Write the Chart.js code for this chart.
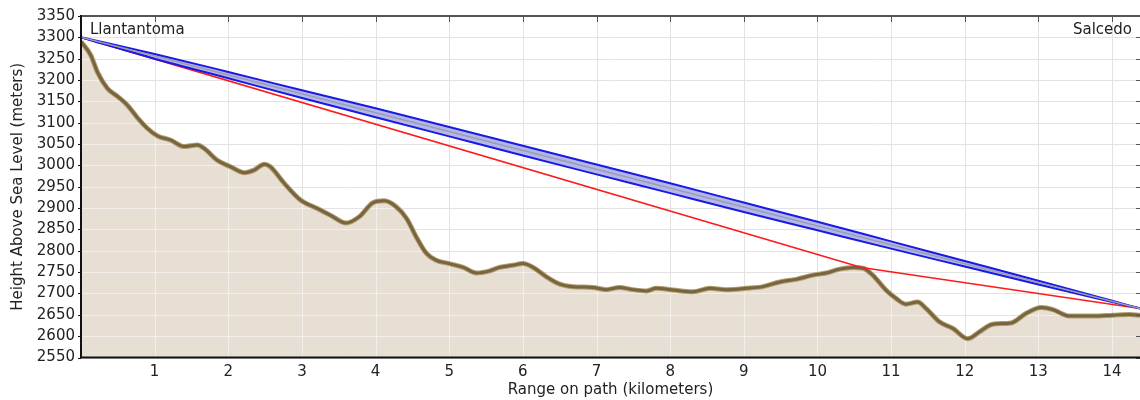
<!DOCTYPE html>
<html><head><meta charset="utf-8">
<script src="https://cdn.jsdelivr.net/npm/chart.js@4.4.1/dist/chart.umd.min.js"></script>
<style>html,body{margin:0;padding:0;background:#fff;}canvas{display:block;}</style>
</head><body>
<canvas id="c" width="1140" height="400"></canvas>
<script>
// ---- data ----
const profileKm = [0, 0.13, 0.23, 0.36, 0.5, 0.63, 0.77, 0.9, 1.04, 1.22, 1.4, 1.58, 1.67, 1.85, 2.03, 2.22, 2.35, 2.49, 2.57, 2.76, 2.98, 3.21, 3.39, 3.6, 3.78, 3.96, 4.12, 4.28, 4.42, 4.55, 4.69, 4.82, 5.0, 5.19, 5.37, 5.55, 5.68, 5.86, 6.0, 6.14, 6.32, 6.5, 6.68, 6.95, 7.13, 7.31, 7.49, 7.68, 7.81, 8.04, 8.31, 8.54, 8.76, 9.03, 9.26, 9.49, 9.71, 9.94, 10.12, 10.3, 10.48, 10.62, 10.75, 10.93, 11.07, 11.2, 11.36, 11.48, 11.66, 11.84, 12.04, 12.2, 12.38, 12.63, 12.83, 13.04, 13.2, 13.42, 13.74, 14.01, 14.24, 14.38];
const profileElev = [3290, 3259, 3216, 3180, 3161, 3141, 3111, 3087, 3069, 3059, 3044, 3048, 3040, 3012, 2997, 2983, 2989, 3003, 2997, 2958, 2919, 2899, 2883, 2865, 2880, 2912, 2917, 2903, 2876, 2833, 2794, 2778, 2770, 2761, 2748, 2753, 2761, 2766, 2770, 2761, 2739, 2722, 2716, 2714, 2709, 2714, 2709, 2706, 2712, 2708, 2704, 2712, 2709, 2712, 2716, 2727, 2733, 2743, 2748, 2757, 2761, 2759, 2743, 2708, 2688, 2675, 2680, 2664, 2633, 2618, 2594, 2610, 2628, 2631, 2653, 2667, 2662, 2647, 2647, 2649, 2651, 2649];

const zoneKm    = [0, 1, 2, 3, 4, 5, 6, 7, 8, 9, 10, 11, 12, 13, 14, 14.38];
const zoneUpper = [3300, 3261, 3219, 3176, 3134, 3090, 3046, 3002, 2958, 2913, 2868, 2822, 2776, 2730, 2683, 2665];
const zoneLower = [3300, 3250, 3204, 3158, 3113, 3068, 3023, 2979, 2935, 2891, 2848, 2805, 2763, 2721, 2680, 2665];

const losKm   = [0, 14.38];
const losElev = [3300, 2665];

const redKm   = [0, 10.6, 14.38];
const redElev = [3300, 2761, 2665];

const xTicks = [1, 2, 3, 4, 5, 6, 7, 8, 9, 10, 11, 12, 13, 14];
const yTicks = [2550, 2600, 2650, 2700, 2750, 2800, 2850, 2900, 2950, 3000, 3050, 3100, 3150, 3200, 3250, 3300, 3350];
const siteNames = ['Llantantoma', 'Salcedo'];
const xTitle = 'Range on path (kilometers)';
const yTitle = 'Height Above Sea Level (meters)';

const pts = (xs, ys) => xs.map((v, i) => ({x: v, y: ys[i]}));
const FONT = "'DejaVu Sans', sans-serif";
const FILL_INDEX = 6;

const decor = {
  id: 'decor',
  beforeDatasetsDraw(chart) {
    const {ctx, chartArea: a, scales: {x, y}} = chart;
    ctx.save();
    ctx.strokeStyle = '#e3e3e3'; ctx.lineWidth = 1;
    ctx.beginPath();
    xTicks.forEach(v => { const p = Math.round(x.getPixelForValue(v)) + 0.5; ctx.moveTo(p, a.top); ctx.lineTo(p, a.bottom); });
    yTicks.forEach(v => { const p = Math.round(y.getPixelForValue(v)) + 0.5; ctx.moveTo(a.left, p); ctx.lineTo(a.right, p); });
    ctx.stroke();
    ctx.restore();
  },
  afterDatasetDraw(chart, args) {
    if (args.index !== FILL_INDEX) return;
    const {ctx, chartArea: a, scales: {x, y}} = chart;
    const d = args.meta.data;
    ctx.save();
    ctx.beginPath();
    ctx.moveTo(d[0].x, a.bottom);
    d.forEach(p => ctx.lineTo(p.x, p.y));
    ctx.lineTo(d[d.length - 1].x, a.bottom);
    ctx.closePath();
    ctx.clip();
    ctx.strokeStyle = '#f2eee9'; ctx.lineWidth = 1;
    ctx.beginPath();
    xTicks.forEach(v => { const p = Math.round(x.getPixelForValue(v)) + 0.5; ctx.moveTo(p, a.top); ctx.lineTo(p, a.bottom); });
    yTicks.forEach(v => { const p = Math.round(y.getPixelForValue(v)) + 0.5; ctx.moveTo(a.left, p); ctx.lineTo(a.right, p); });
    ctx.stroke();
    ctx.restore();
  },
  afterDatasetsDraw(chart) {
    const {ctx, chartArea: a, scales: {x, y}} = chart;
    ctx.save();
    ctx.strokeStyle = '#555'; ctx.lineWidth = 2;
    ctx.beginPath(); ctx.moveTo(a.left, a.top); ctx.lineTo(a.right, a.top); ctx.stroke();
    ctx.lineWidth = 1;
    ctx.beginPath();
    xTicks.forEach(v => { const p = Math.round(x.getPixelForValue(v)) + 0.5; ctx.moveTo(p, a.top); ctx.lineTo(p, a.top + 6); });
    yTicks.forEach(v => { const p = Math.round(y.getPixelForValue(v)) + 0.5; ctx.moveTo(a.right - 4, p); ctx.lineTo(a.right, p); });
    ctx.stroke();
    ctx.strokeStyle = '#111'; ctx.lineWidth = 2;
    ctx.beginPath();
    ctx.moveTo(a.left, a.top - 1); ctx.lineTo(a.left, a.bottom);
    ctx.lineTo(a.right, a.bottom);
    ctx.stroke();
    ctx.lineWidth = 1;
    ctx.beginPath();
    yTicks.forEach(v => { const p = Math.round(y.getPixelForValue(v)) + 0.5; ctx.moveTo(a.left - 3, p); ctx.lineTo(a.left, p); });
    ctx.stroke();
    ctx.fillStyle = '#222';
    ctx.font = '15px ' + FONT;
    ctx.textBaseline = 'alphabetic';
    ctx.textAlign = 'left';
    ctx.fillText(siteNames[0], a.left + 9, a.top + 18);
    ctx.textAlign = 'right';
    ctx.fillText(siteNames[1], a.right - 8, a.top + 18);
    ctx.restore();
  }
};

const common = {pointRadius: 0, pointHoverRadius: 0, fill: false};

new Chart(document.getElementById('c'), {
  type: 'line',
  data: {
    datasets: [
      Object.assign({}, common, {data: pts(losKm, losElev), borderColor: '#9c9cb0', borderWidth: 1.5, order: 1}),
      Object.assign({}, common, {data: pts(zoneKm, zoneUpper), borderColor: '#1a1ae6', borderWidth: 2, cubicInterpolationMode: 'monotone', order: 2}),
      Object.assign({}, common, {data: pts(zoneKm, zoneLower), borderColor: '#1a1ae6', borderWidth: 2, cubicInterpolationMode: 'monotone', fill: 1, backgroundColor: '#b3b7ea', order: 3}),
      Object.assign({}, common, {data: pts(redKm, redElev), borderColor: '#ff1a1a', borderWidth: 1.5, order: 4}),
      Object.assign({}, common, {data: pts(profileKm, profileElev), borderColor: '#76653f', borderWidth: 3, cubicInterpolationMode: 'monotone', order: 5}),
      Object.assign({}, common, {data: pts(profileKm, profileElev), borderColor: '#b39d70', borderWidth: 5, cubicInterpolationMode: 'monotone', order: 6}),
      Object.assign({}, common, {data: pts(profileKm, profileElev), borderColor: 'rgba(0,0,0,0)', borderWidth: 0, fill: 'start', backgroundColor: '#e8dfd4', cubicInterpolationMode: 'monotone', order: 7})
    ]
  },
  options: {
    responsive: false,
    animation: false,
    devicePixelRatio: 1,
    events: [],
    layout: {padding: {top: 16, right: 0, left: 0, bottom: 0}},
    plugins: {legend: {display: false}, tooltip: {enabled: false}},
    scales: {
      x: {
        type: 'linear', min: 0, max: 14.38,
        afterBuildTicks: s => { s.ticks = xTicks.map(v => ({value: v})); },
        afterFit: s => { s.height = 42.5; },
        grid: {display: false, drawTicks: false},
        border: {display: false},
        ticks: {padding: 6, color: '#222', font: {family: FONT, size: 15}, autoSkip: false, maxRotation: 0, callback: v => String(v)},
        title: {display: true, text: xTitle, color: '#222', font: {family: FONT, size: 15}, padding: {top: 0, bottom: 1}}
      },
      y: {
        type: 'linear', min: 2550, max: 3350,
        afterBuildTicks: s => { s.ticks = yTicks.map(v => ({value: v})); },
        afterFit: s => { s.width = 81; },
        grid: {display: false, drawTicks: false},
        border: {display: false},
        ticks: {padding: 6, color: '#222', font: {family: FONT, size: 15}, autoSkip: false, callback: v => String(v)},
        title: {display: true, text: yTitle, color: '#222', font: {family: FONT, size: 15}, padding: {top: 9, bottom: 0}}
      }
    }
  },
  plugins: [decor]
});
</script>
</body></html>
